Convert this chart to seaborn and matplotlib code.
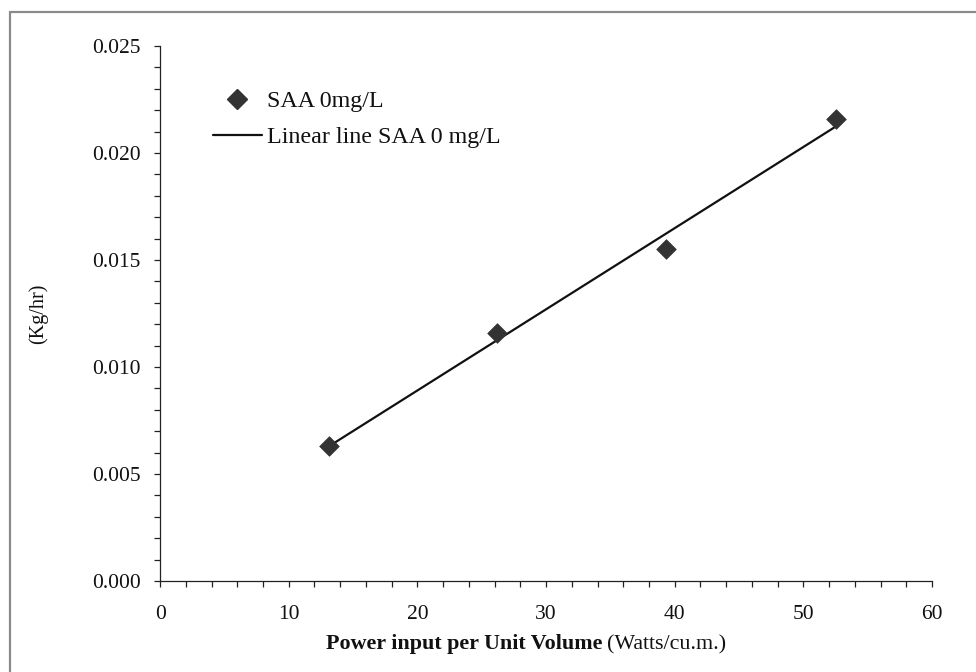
import numpy as np
import pandas as pd
import matplotlib
matplotlib.use("Agg")
import matplotlib.pyplot as plt
from matplotlib.lines import Line2D
from matplotlib.ticker import MultipleLocator, FormatStrFormatter
import seaborn as sns

# Measured mass-transfer rate against specific power input (SAA 0 mg/L)
power_input = [13.1, 26.2, 39.3, 52.5]          # Watts/cu.m.
rate_kg_hr = [0.0063, 0.0116, 0.0155, 0.0216]   # Kg/hr

series_label = "SAA 0mg/L"
fit_label = "Linear line SAA 0 mg/L"
x_label_bold = "Power input per Unit Volume"
x_label_unit = "(Watts/cu.m.)"
y_label = "(Kg/hr)"

df = pd.DataFrame({"power": power_input, "rate": rate_kg_hr})

sns.set_theme(style="ticks")
plt.rcParams["font.family"] = ["Liberation Serif", "DejaVu Serif"]

fig = plt.figure(figsize=(9.76, 6.72), dpi=100)
ax = fig.add_axes([0.164, 0.1354, 0.791, 0.7961])

# least-squares trend line over the measured range
sns.regplot(data=df, x="power", y="rate", scatter=False, ci=None, truncate=True,
            color="#111111", line_kws={"linewidth": 1.6}, ax=ax)
sns.scatterplot(data=df, x="power", y="rate", marker="D", s=100, color="#333333",
                edgecolor="#333333", linewidth=0.5, zorder=3, ax=ax)

ax.set_xlim(0, 60)
ax.set_ylim(0, 0.025)
ax.xaxis.set_major_locator(MultipleLocator(10))
ax.xaxis.set_minor_locator(MultipleLocator(2))
ax.yaxis.set_major_locator(MultipleLocator(0.005))
ax.yaxis.set_minor_locator(MultipleLocator(0.001))
ax.yaxis.set_major_formatter(FormatStrFormatter("%.3f"))

for s in ("top", "right"):
    ax.spines[s].set_visible(False)
for s in ("left", "bottom"):
    ax.spines[s].set_color("#222222")
    ax.spines[s].set_linewidth(0.9)

ax.tick_params(axis="both", which="both", direction="out", color="#222222", width=0.9)
ax.tick_params(axis="both", which="major", length=4, labelsize=15.5, labelcolor="#111111")
ax.tick_params(axis="both", which="minor", length=4)
ax.tick_params(axis="x", which="major", pad=13.5)
ax.tick_params(axis="y", which="major", pad=10)

ax.set_xlabel("")
ax.set_ylabel(y_label, fontsize=14.5, color="#111111")
ax.yaxis.set_label_coords(-0.145, 0.5)

# x-axis title: bold description followed by the unit in regular weight
t_bold = fig.text(326 / 976, 1 - 649 / 672, x_label_bold, fontsize=15.8,
                  fontweight="bold", color="#111111", ha="left", va="baseline")
ax.annotate(x_label_unit, xy=(1, 0), xycoords=t_bold, xytext=(3, 0),
            textcoords="offset points", fontsize=15.8, color="#111111",
            ha="left", va="bottom")

handles = [
    Line2D([], [], marker="D", linestyle="none", markersize=10,
           color="#333333", markeredgecolor="#333333"),
    Line2D([], [], color="#111111", linewidth=1.6),
]
ax.legend(handles, [series_label, fit_label], loc="upper left",
          bbox_to_anchor=(0.040, 0.958), frameon=False, fontsize=17.3,
          handlelength=2.06, handletextpad=0.2, labelspacing=0.6,
          labelcolor="#111111")

# outer border of the chart area
fig.add_artist(Line2D([10 / 976, 10 / 976], [0, 1 - 12 / 672],
                      transform=fig.transFigure, color="#8a8a8a", linewidth=1.6))
fig.add_artist(Line2D([10 / 976, 1], [1 - 12 / 672, 1 - 12 / 672],
                      transform=fig.transFigure, color="#8a8a8a", linewidth=1.6))

fig.savefig("out.png", dpi=100)
